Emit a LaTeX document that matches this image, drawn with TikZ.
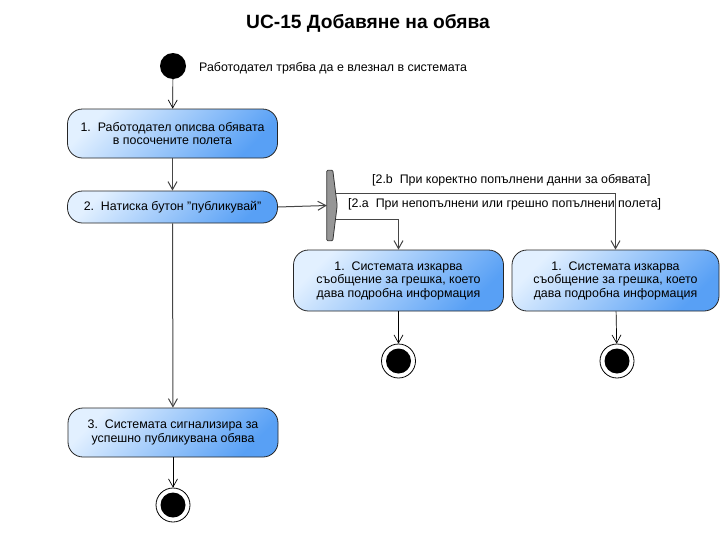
\documentclass[tikz,border=0pt]{standalone}
\usepackage{fontspec}
\setmainfont{Liberation Sans}
\usetikzlibrary{arrows.meta,calc}
\definecolor{actL}{RGB}{226,240,255}
\definecolor{actD}{RGB}{88,160,245}
\definecolor{flowC}{RGB}{70,70,70}
\definecolor{forkC}{RGB}{150,150,150}
\begin{document}
\begin{tikzpicture}[x=1pt,y=-1pt,
  action/.style={draw=black!85, line width=0.8pt, rounded corners=15pt,
    top color=actL, bottom color=actD, shading angle=45,
    minimum width=210pt, align=center, inner sep=2pt,
    font=\fontsize{12.4}{13.5}\selectfont},
  lbl/.style={font=\fontsize{12.4}{13.5}\selectfont, inner sep=0pt},
  flow/.style={draw=flowC, line width=1pt, -{Straight Barb[length=8pt,width=9pt]}},
  thin/.style={draw=black, line width=0.7pt, -{Straight Barb[length=8pt,width=9pt]}},
  startdot/.style={circle, fill=black, minimum size=26pt, inner sep=0pt},
  enddot/.style={circle, draw=black, line width=0.8pt, fill=white, minimum size=34pt, inner sep=0pt,
    path picture={\fill[black] (path picture bounding box.center) circle (12.5pt);}},
  forkbox/.style={minimum width=10pt, minimum height=70pt, inner sep=0pt}
]
\useasboundingbox (0,0) rectangle (728,533);
\fill[white] (0,0) rectangle (728,533);

\node[font=\fontsize{19.2}{21}\selectfont\bfseries, inner sep=0pt] (title) at (368,23) {UC-15 Добавяне на обява};

\node[startdot] (start) at (173,66) {};
\node[lbl, anchor=west] (startlbl) at (199,68) {Работодател трябва да е влезнал в системата};

\node[action, minimum height=49pt] (a1) at (172.5,133.5) {1.\ \ Работодател описва обявата\\в посочените полета};
\node[action, minimum height=32pt] (a2) at (172.5,207) {2.\ \ Натиска бутон "публикувай"};
\node[forkbox] (fork) at (332,205.5) {};

\node[action, minimum height=61pt] (e1) at (398.5,280.5) {1.\ \ Системата изкарва\\съобщение за грешка, което\\дава подробна информация};
\node[action, minimum height=61pt, minimum width=207pt] (e2) at (615.5,280.5) {1.\ \ Системата изкарва\\съобщение за грешка, което\\дава подробна информация};
\node[action, minimum height=49pt] (a3) at (173,432.5) {3.\ \ Системата сигнализира за\\успешно публикувана обява};

\node[enddot] (end1) at (398.5,361) {};
\node[enddot] (end2) at (617,361) {};
\node[enddot] (end3) at (173,505) {};

\coordinate (pa) at ($(fork.center)+(0,13.5)$);
\coordinate (pb) at ($(fork.center)+(0,-12.5)$);

\draw[thin] (start) -- (a1);
\draw[flow] (a1) -- (a2);
\draw[flow] (a2.east) -- (fork.west);
\draw[flow] (a2) -- (a3);
\draw[flow] (pa) -| (e1.north);
\draw[flow] (pb) -| (e2.north);
\draw[thin] (e1) -- (end1);
\draw[thin] (e2) -- (end2);
\draw[thin] (a3) -- (end3);

\filldraw[fill=forkC, draw=black!80, line width=0.8pt, rounded corners=1pt]
  (fork.north west) -- ($(fork.north west)+(6,0)$) -- (fork.east) -- ($(fork.south west)+(6,0)$) -- (fork.south west) -- cycle;

\node[lbl, anchor=west] (lb) at (372,180) {[2.b\ \ При коректно попълнени данни за обявата]};
\node[lbl, anchor=west] (la) at (348,204) {[2.a\ \ При непопълнени или грешно попълнени полета]};
\end{tikzpicture}
\end{document}
